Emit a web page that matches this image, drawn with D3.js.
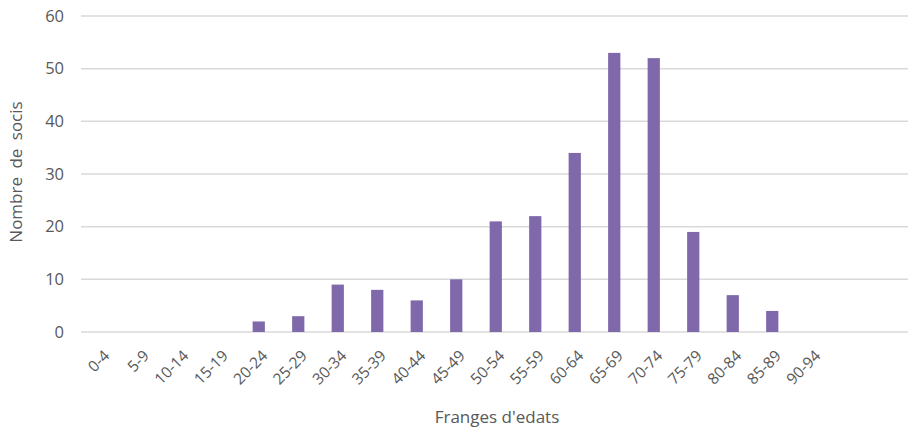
<!DOCTYPE html>
<html>
<head>
<meta charset="utf-8">
<script src="https://cdn.jsdelivr.net/npm/d3@7"></script>
<style>
  html, body { margin: 0; padding: 0; background: #fff; }
  svg { display: block; font-family: "Open Sans", sans-serif; }
</style>
</head>
<body>
<svg id="chart" width="908" height="431"></svg>
<script>
// Age bands and number of members in each
const categories = ["0-4","5-9","10-14","15-19","20-24","25-29","30-34","35-39","40-44","45-49",
                    "50-54","55-59","60-64","65-69","70-74","75-79","80-84","85-89","90-94"];
const members = [0,0,0,0,2,3,9,8,6,10,21,22,34,53,52,19,7,4,0];
const yTicks = [0,10,20,30,40,50,60];
const yTitle = "Nombre de socis";
const xTitle = "Franges d'edats";

const svg = d3.select("#chart");
const W = 908;
const plotLeft = 81, plotTop = 16, plotBottom = 332;
const band = 39.5;
const textColor = "#595959";

const x = d3.scaleBand()
  .domain(categories)
  .range([plotLeft, plotLeft + band * categories.length])
  .paddingInner(0.69)
  .paddingOuter(0.345);

const y = d3.scaleLinear().domain([0, 60]).range([plotBottom, plotTop]);

// horizontal gridlines
svg.append("g").selectAll("line").data(yTicks).join("line")
  .attr("x1", plotLeft).attr("x2", W)
  .attr("y1", d => y(d)).attr("y2", d => y(d))
  .attr("stroke", "#d9d9d9").attr("stroke-width", 1.5);

// y axis labels
const yAxis = d3.axisLeft(y).tickValues(yTicks).tickSize(0).tickPadding(0);
const gy = svg.append("g").attr("transform", `translate(${plotLeft - 17},0)`).call(yAxis);
gy.select(".domain").remove();
gy.selectAll("text").attr("fill", textColor).style("font-size", "16.5px")
  .style("font-family", "'Open Sans', sans-serif");

// bars
svg.append("g").selectAll("rect").data(categories).join("rect")
  .attr("x", d => x(d))
  .attr("width", x.bandwidth())
  .attr("y", (d, i) => y(members[i]))
  .attr("height", (d, i) => y(0) - y(members[i]))
  .attr("fill", "#7f69aa");

// x axis labels, rotated
const xAxis = d3.axisBottom(x).tickSize(0).tickPadding(0);
const gx = svg.append("g").attr("transform", `translate(0,${plotBottom})`).call(xAxis);
gx.select(".domain").remove();
gx.selectAll("text")
  .attr("fill", textColor)
  .style("font-size", "15.5px")
  .style("font-family", "'Open Sans', sans-serif")
  .attr("text-anchor", "end")
  .attr("dy", "0.35em")
  .attr("transform", "translate(6,21) rotate(-45)");

// axis titles
svg.append("text")
  .attr("transform", "translate(22,172) rotate(-90)")
  .attr("text-anchor", "middle")
  .attr("fill", textColor)
  .style("font-size", "17px")
  .style("word-spacing", "4px")
  .text(yTitle);

svg.append("text")
  .attr("x", 497).attr("y", 423)
  .attr("text-anchor", "middle")
  .attr("fill", textColor)
  .style("font-size", "17px")
  .text(xTitle);
</script>
</body>
</html>
